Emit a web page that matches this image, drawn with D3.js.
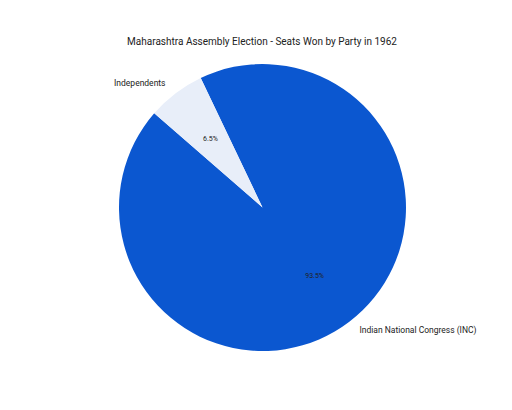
<!DOCTYPE html>
<html>
<head>
<meta charset="utf-8">
<script src="https://cdn.jsdelivr.net/npm/d3@7"></script>
<style>
  body { margin: 0; background: #fff; }
  text { font-family: Roboto, "Noto Sans", sans-serif; fill: #222; }
</style>
</head>
<body>
<div id="chart"></div>
<script>
var parties = ['Indian National Congress (INC)', 'Independents'];
var seats = [215, 15];
var colors = ['#0b57d0', '#e8eef9'];

var size = { width: 512, height: 410 };
var cx = 262.5, cy = 207.5, radius = 143.5;
var startAngle = -25.5 * Math.PI / 180;

var svg = d3.select('#chart')
            .append('svg')
            .attr('width', size.width)
            .attr('height', size.height);

svg.append('text')
   .attr('x', 262)
   .attr('y', 45)
   .attr('text-anchor', 'middle')
   .style('font-size', '10px')
   .text('Maharashtra Assembly Election - Seats Won by Party in 1962');

var pie = d3.pie()
            .sort(null)
            .startAngle(startAngle)
            .endAngle(startAngle + 2 * Math.PI);

var arcs = pie(seats);
var total = d3.sum(seats);

var arc = d3.arc().innerRadius(0).outerRadius(radius);
var labelArc = d3.arc().innerRadius(radius * 0.6).outerRadius(radius * 0.6);

var g = svg.append('g').attr('transform', 'translate(' + cx + ',' + cy + ')');

g.selectAll('path')
 .data(arcs)
 .enter()
 .append('path')
 .attr('d', arc)
 .attr('fill', function(d, i){ return colors[i]; });

// percentage labels inside slices
g.selectAll('text.pct')
 .data(arcs)
 .enter()
 .append('text')
 .attr('class', 'pct')
 .attr('transform', function(d){ return 'translate(' + labelArc.centroid(d) + ')'; })
 .attr('text-anchor', 'middle')
 .attr('dy', '0.35em')
 .style('font-size', '7px')
 .text(function(d){ return (d.value / total * 100).toFixed(1) + '%'; });

// outside labels
var outer = [
  { anchor: 'start', dx: 97, dy: 125 },   // INC, below-right
  { anchor: 'end', dx: -97, dy: -122 }    // Independents, above-left
];
g.selectAll('text.name')
 .data(arcs)
 .enter()
 .append('text')
 .attr('class', 'name')
 .attr('x', function(d, i){ return outer[i].dx; })
 .attr('y', function(d, i){ return outer[i].dy; })
 .attr('text-anchor', function(d, i){ return outer[i].anchor; })
 .style('font-size', '8.5px')
 .text(function(d, i){ return parties[i]; });
</script>
</body>
</html>
